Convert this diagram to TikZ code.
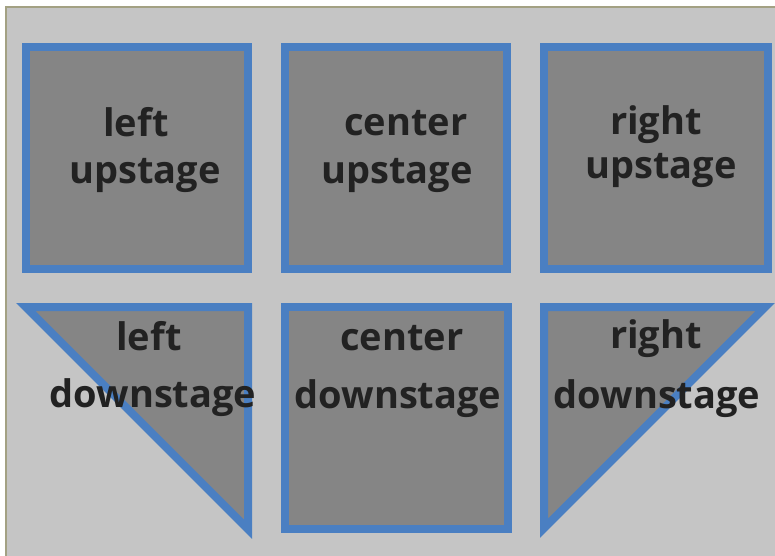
\documentclass[tikz,border=0pt]{standalone}
\usepackage{fontspec}
\setmainfont{Open Sans}
\definecolor{bgc}{HTML}{C5C5C5}
\definecolor{framec}{HTML}{A3A183}
\definecolor{boxc}{HTML}{858585}
\definecolor{edgec}{HTML}{4A7FC2}
\definecolor{txtc}{HTML}{222222}
\begin{document}
\begin{tikzpicture}[x=1bp,y=-1bp,
  area/.style={fill=boxc,draw=edgec,line width=8bp,miter limit=20},
  lbl/.style={anchor=base,inner sep=0pt,text=txtc,font=\fontsize{38bp}{46bp}\selectfont\bfseries}]
\useasboundingbox (0,0) rectangle (775,556);
\fill[white] (0,0) rectangle (775,556);
\fill[bgc] (6,7) rectangle (775,556);
\draw[framec,line width=1.5bp] (6,556) -- (6,7) -- (775,7);
% upstage row
\draw[area] (26,47) rectangle (248,269);
\draw[area] (285,47) rectangle (507,269);
\draw[area] (544,47) rectangle (768,269);
% downstage row
\draw[area] (25.7,307) -- (248,307) -- (248,529.3) -- cycle;
\draw[area] (285,307) rectangle (508,529);
\draw[area] (544,307) -- (765.3,307) -- (544,528.3) -- cycle;
% labels
\node[lbl] (lu1) at (136,137) {left};
\node[lbl] (lu2) at (145,184) {upstage};
\node[lbl] (cu1) at (406,136) {center};
\node[lbl] (cu2) at (397,184) {upstage};
\node[lbl] (ru1) at (656,135) {right};
\node[lbl] (ru2) at (661,179) {upstage};
\node[lbl] (ld1) at (149,350) {left};
\node[lbl] (ld2) at (153,407) {downstage};
\node[lbl] (cd1) at (402,350) {center};
\node[lbl] (cd2) at (398,408) {downstage};
\node[lbl] (rd1) at (656,348) {right};
\node[lbl] (rd2) at (657,408) {downstage};
\end{tikzpicture}
\end{document}
